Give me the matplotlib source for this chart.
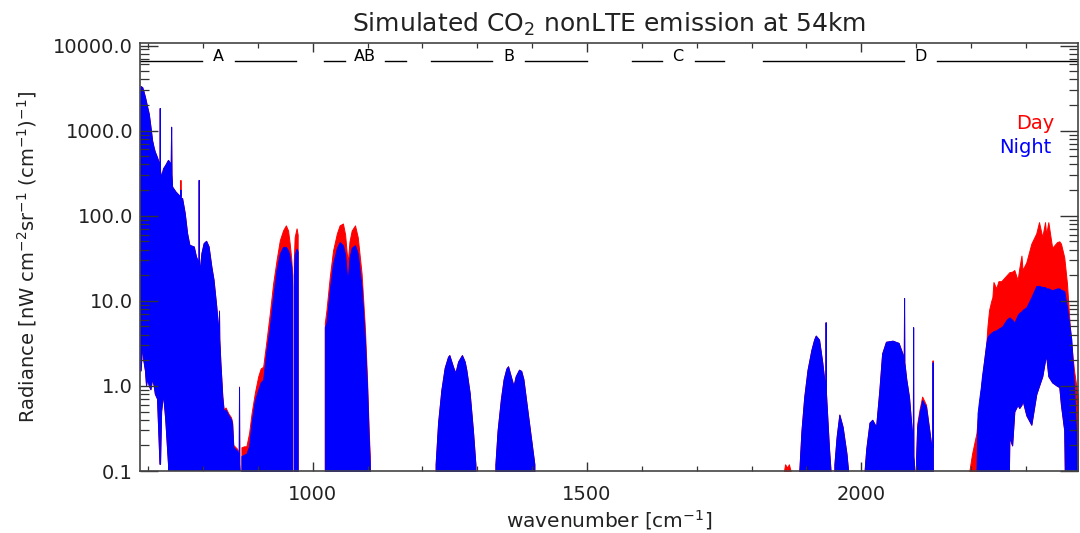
import matplotlib
matplotlib.use('Agg')
import matplotlib.pyplot as plt
from matplotlib.ticker import MultipleLocator, LogLocator, FormatStrFormatter, NullFormatter

# values
# wavenumber [cm-1], radiance [nW cm-2 sr-1 (cm-1)-1]

# band A region (685-868), day ~ night, with raised lower envelope on the left
a_wn = [685, 687, 690, 692, 695, 697, 699, 702, 705, 708, 711, 713, 717, 721.5, 722, 722.5,
        724.5, 728, 732, 737, 742, 742.7, 743.4, 744.5, 750.6, 756.6, 759.2, 759.7, 760.2,
        762.7, 767.5, 771.8, 776, 784, 788, 792.5, 793, 793.5, 795.5, 798, 802, 806.5, 811,
        816, 820, 825, 828, 829.5, 830, 830.5, 832.5, 836, 838.5, 842, 847, 852, 854, 856,
        863, 866, 866.5, 867, 868]
a_night = [2000, 3290, 3200, 2900, 2460, 2150, 1880, 1550, 1100, 760, 620, 558, 480, 390, 1820, 330,
           284, 356, 390, 447, 400, 1095, 300, 217, 190, 173, 165, 200, 160,
           159, 106, 61.6, 44.9, 42.9, 32.7, 28, 260, 26, 25, 36, 47, 50, 43,
           25, 17.5, 8.5, 5.0, 4.5, 7.4, 3.5, 1.86, 0.74, 0.5, 0.52, 0.45, 0.4, 0.35, 0.19,
           0.17, 0.15, 0.95, 0.12, 0.09]
a_day = [2000, 3290, 3200, 2900, 2460, 2150, 1880, 1550, 1100, 760, 620, 558, 480, 390, 1820, 330,
         284, 356, 390, 447, 400, 1095, 300, 217, 190, 173, 165, 260, 160,
         159, 106, 61.6, 44.9, 42.9, 32.7, 28, 260, 26, 25, 36, 47, 50, 43,
         25, 17.5, 8.5, 5.1, 4.6, 7.6, 3.6, 1.9, 0.76, 0.52, 0.55, 0.47, 0.42, 0.37, 0.2,
         0.18, 0.16, 0.97, 0.12, 0.09]
a_low = [1.5, 1.5, 3, 2, 1.5, 1.0, 1.2, 1.0, 0.9, 1.2, 1.0, 0.8, 0.7, 0.12, 0.12, 0.12,
         0.5, 0.8, 0.4, 0.12, 0.001, 0.001, 0.001, 0.001, 0.001, 0.001, 0.001, 0.001, 0.001,
         0.001, 0.001, 0.001, 0.001, 0.001, 0.001, 0.001, 0.001, 0.001, 0.001, 0.001, 0.001, 0.001, 0.001,
         0.001, 0.001, 0.001, 0.001, 0.001, 0.001, 0.001, 0.001, 0.001, 0.001, 0.001, 0.001, 0.001, 0.001, 0.001,
         0.001, 0.001, 0.001, 0.001, 0.001]

# band around 950
w_wn = [870, 874.4, 879, 884, 888.5, 894.5, 900.5, 905, 909.6, 915.8, 921.8, 927.8, 934, 940,
        946, 951, 955, 958, 961, 962.5]
w_day = [0.19, 0.195, 0.195, 0.28, 0.48, 0.83, 1.29, 1.6, 1.68, 3.46, 7.2, 16, 30, 51.6,
         67.5, 77, 67, 47, 30, 20]
w_night = [0.15, 0.155, 0.16, 0.195, 0.37, 0.68, 0.9, 1.1, 1.18, 2.64, 4.96, 11.1, 23, 36,
           43, 43, 39, 33, 25, 15]

# narrow feature near 970
n_wn = [965.5, 967, 970.5, 972.5]
n_day = [30, 56, 71, 60]
n_night = [20, 35, 41, 38]

# AB band
ab_wn = [1022, 1025, 1031, 1037, 1044, 1049, 1055, 1059, 1062, 1064, 1067, 1071, 1077, 1082,
         1089, 1095, 1099, 1102, 1104]
ab_day = [5.5, 7.8, 19, 39, 62, 77, 81, 60, 36, 29, 50, 67, 77, 56, 21, 4.9, 1.18, 0.3, 0.15]
ab_night = [4.9, 5.5, 13.3, 27.6, 42, 49, 45, 35, 21, 18, 32, 42, 45, 36, 14.5, 3.5, 0.97, 0.25, 0.12]

# B bands (day and night identical)
b1_wn = [1224, 1228.5, 1234.5, 1240.5, 1246.6, 1249, 1255.7, 1260, 1265, 1272, 1277, 1280,
         1286, 1292, 1296.5]
b1_rad = [0.12, 0.37, 0.9, 1.63, 2.2, 2.3, 1.68, 1.42, 1.93, 2.3, 1.93, 1.54, 0.83, 0.3, 0.12]
b2_wn = [1333, 1337, 1343, 1348, 1353, 1356, 1361, 1366, 1370, 1376, 1380, 1384, 1390, 1396, 1404]
b2_rad = [0.12, 0.3, 0.7, 1.2, 1.6, 1.7, 1.3, 1.0, 1.3, 1.55, 1.5, 1.2, 0.6, 0.3, 0.12]

# D region small bands
d0_wn = [1858, 1861, 1865, 1868, 1873]
d0_day = [0.09, 0.12, 0.11, 0.12, 0.09]
d1_wn = [1887, 1891, 1896, 1902, 1909, 1914, 1917, 1923, 1929, 1934.5, 1935, 1935.5, 1936, 1941, 1944]
d1_rad = [0.1, 0.3, 0.74, 1.54, 2.64, 3.5, 3.9, 3.5, 1.86, 0.9, 5.6, 0.85, 0.74, 0.19, 0.1]
d2_wn = [1951, 1955, 1960, 1966, 1973, 1976]
d2_rad = [0.12, 0.25, 0.46, 0.33, 0.16, 0.1]
d3_wn = [2006, 2009, 2015, 2020, 2027, 2033, 2038, 2045, 2057, 2068, 2075, 2077.5, 2078,
         2078.5, 2082, 2087, 2092, 2094, 2094.5, 2095, 2097]
d3_rad = [0.1, 0.18, 0.37, 0.4, 0.33, 0.9, 2.4, 3.3, 3.4, 3.2, 2.4, 2.0, 10.8,
          1.9, 1.2, 0.74, 0.3, 0.19, 4.9, 0.15, 0.1]
d4_wn = [2100, 2102, 2106, 2111, 2118, 2124, 2128, 2129.5, 2130, 2130.5]
d4_day = [0.15, 0.36, 0.52, 0.75, 0.6, 0.3, 0.19, 0.19, 2.0, 0.1]
d4_night = [0.14, 0.33, 0.48, 0.68, 0.57, 0.3, 0.19, 0.19, 1.9, 0.1]

# main D band (4.3 um)
dm_wn = [2197, 2202, 2210, 2212, 2215, 2218, 2220, 2224, 2228, 2230, 2233, 2237, 2239, 2241,
         2246, 2250, 2255, 2257, 2265, 2270, 2275, 2279, 2285, 2288, 2292, 2294, 2301, 2310,
         2319, 2324, 2330, 2335, 2337, 2341, 2348, 2357, 2361, 2364, 2370, 2375, 2379, 2383,
         2388, 2393, 2395]
dm_day = [0.1, 0.16, 0.28, 0.4, 0.57, 0.9, 1.18, 2.0, 3.2, 5, 7.8, 10, 11, 16.6,
          14, 17, 17, 17.5, 20, 21.7, 22, 23, 17.5, 24, 34, 23, 28.5, 47,
          62, 84, 56, 84, 60, 84, 42, 49, 50, 47, 32.5, 16, 6.4, 3,
          1.5, 0.9, 0.7]
dm_night = [0.01, 0.02, 0.1, 0.48, 0.7, 0.97, 1.3, 2.0, 3.2, 3.75, 4.0, 4.2, 4.3, 4.4,
            4.5, 4.7, 4.9, 5.0, 6.0, 6.4, 6.0, 5.5, 6.8, 7.2, 7.5, 7.8, 8.4, 11,
            14.9, 15, 14.5, 14.5, 14, 14, 13.3, 14, 14, 13.5, 13, 8.4, 5.5, 3.5,
            0.97, 0.16, 0.1]
dm_low = [0.001, 0.001, 0.001, 0.001, 0.001, 0.001, 0.001, 0.001, 0.001, 0.001, 0.001, 0.001, 0.001, 0.001,
          0.001, 0.001, 0.001, 0.001, 0.001, 0.25, 0.2, 0.5, 0.6, 0.55, 0.6, 0.68, 0.45, 0.35,
          0.8, 1.0, 1.3, 2.0, 2.3, 1.3, 1.1, 1.0, 0.97, 0.6, 0.3, 0.001, 0.001, 0.001,
          0.001, 0.001, 0.001]

# MIPAS band limits drawn along the top
band_names = ['A', 'AB', 'B', 'C', 'D']
band_lo = [685, 1020, 1215, 1582, 1820]
band_hi = [970, 1170, 1500, 1750, 2395]
band_label_y = 6580

floor = 1e-3

day_spectra = [(a_wn, a_day, a_low), (w_wn, w_day, None), (n_wn, n_day, None),
               (ab_wn, ab_day, None), (b1_wn, b1_rad, None), (b2_wn, b2_rad, None),
               (d0_wn, d0_day, None), (d1_wn, d1_rad, None), (d2_wn, d2_rad, None),
               (d3_wn, d3_rad, None), (d4_wn, d4_day, None), (dm_wn, dm_day, dm_low)]
night_spectra = [(a_wn, a_night, a_low), (w_wn, w_night, None), (n_wn, n_night, None),
                 (ab_wn, ab_night, None), (b1_wn, b1_rad, None), (b2_wn, b2_rad, None),
                 (d1_wn, d1_rad, None), (d2_wn, d2_rad, None),
                 (d3_wn, d3_rad, None), (d4_wn, d4_night, None), (dm_wn, dm_night, dm_low)]

plt.rcParams['font.family'] = 'DejaVu Sans'
plt.rcParams['mathtext.default'] = 'regular'

fig = plt.figure(figsize=(10.8, 5.33), dpi=100)
ax = fig.add_axes([0.1296, 0.1163, 0.8685, 0.803])


def draw(spectra, color):
    for wn, top, low in spectra:
        if low is None:
            low = [floor] * len(wn)
        ax.fill_between(wn, low, top, facecolor=color, edgecolor=color, linewidth=0.7)


draw(day_spectra, '#ff0000')
draw(night_spectra, '#0000ff')

ax.set_yscale('log')
ax.set_xlim(685, 2395)
ax.set_ylim(0.1, 1.07e4)

ax.xaxis.set_major_locator(MultipleLocator(500))
ax.xaxis.set_minor_locator(MultipleLocator(100))
ax.yaxis.set_major_locator(LogLocator(base=10))
ax.yaxis.set_minor_locator(LogLocator(base=10, subs=range(2, 10)))
ax.yaxis.set_major_formatter(FormatStrFormatter('%.1f'))
ax.yaxis.set_minor_formatter(NullFormatter())

ax.tick_params(axis='both', which='both', direction='in', top=True, right=True,
               colors='#333333', labelcolor='#222222', labelsize=14)
ax.tick_params(axis='y', which='major', length=13, width=1.0, pad=5)
ax.tick_params(axis='y', which='minor', length=6.5, width=0.9)
ax.tick_params(axis='x', which='major', length=6.5, width=1.0, pad=10)
ax.tick_params(axis='x', which='minor', length=3.5, width=0.9)
for sp in ax.spines.values():
    sp.set_color('#444444')
    sp.set_linewidth(1.2)

# band markers
for name, lo, hi in zip(band_names, band_lo, band_hi):
    mid = 0.5 * (lo + hi)
    half = 24 + 6 * len(name)
    ax.plot([lo, mid - half], [band_label_y, band_label_y], color='black', lw=1.0)
    ax.plot([mid + half, hi], [band_label_y, band_label_y], color='black', lw=1.0)
    ax.text(mid, band_label_y, name, ha='center', va='baseline', fontsize=11.5, color='black')

ax.text(0.975, 0.813, 'Day', color='#ff0000', fontsize=14, ha='right', va='center',
        transform=ax.transAxes)
ax.text(0.972, 0.755, 'Night', color='#0000ff', fontsize=14, ha='right', va='center',
        transform=ax.transAxes)

ax.set_title('Simulated CO$_2$ nonLTE emission at 54km', fontsize=18, pad=8, color='#222222')
ax.set_xlabel('wavenumber [cm$^{-1}$]', fontsize=14.5, color='#222222', labelpad=3)
ax.set_ylabel('Radiance [nW cm$^{-2}$sr$^{-1}$ (cm$^{-1}$)$^{-1}$]', fontsize=14,
              color='#222222', labelpad=10)

fig.savefig('out.png', dpi=100)
